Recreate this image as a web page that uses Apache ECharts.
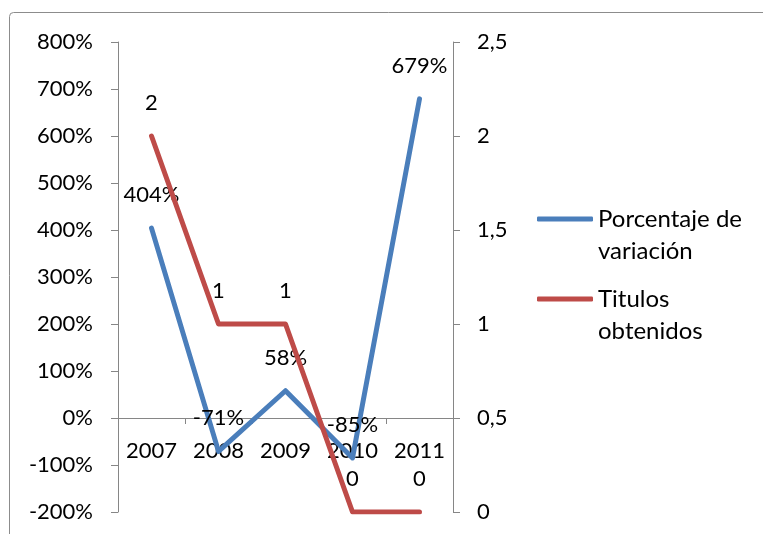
<!DOCTYPE html>
<html>
<head>
<meta charset="utf-8">
<script src="https://cdn.jsdelivr.net/npm/echarts@6/dist/echarts.min.js"></script>
<style>html,body{margin:0;padding:0;background:#fff}#c{width:763px;height:534px}</style>
</head>
<body>
<div id="c"></div>
<script>
var years = ['2007', '2008', '2009', '2010', '2011'];
var porcentaje = [404, -71, 58, -85, 679];
var titulos = [2, 1, 1, 0, 0];
var leftTicks = { min: -200, max: 800, interval: 100 };
var rightTicks = { min: 0, max: 2.5, interval: 0.5 };
var names = ['Porcentaje de variación', 'Titulos obtenidos'];

var FONT = 'Lato';
var chart = echarts.init(document.getElementById('c'));
var axisColor = '#868686';
var gridTop = 42, gridBottom = 22, H = 534;
var plotH = H - gridTop - gridBottom;
var zeroOffset = -plotH * (0 - leftTicks.min) / (leftTicks.max - leftTicks.min);
function comma(v) { return String(v).replace('.', ','); }
function legendFmt(n) { return n === names[0] ? '\nPorcentaje de\nvariación' : '\nTitulos\nobtenidos'; }
var legendText = { fontFamily: FONT, fontSize: 24, color: '#000', lineHeight: 32 };

chart.setOption({
  animation: false,
  textStyle: { fontFamily: FONT },
  graphic: [{
    type: 'rect', shape: { x: 9.5, y: 12.5, width: 800, height: 600, r: 4 },
    style: { fill: 'none', stroke: '#8c8c8c', lineWidth: 1 }
  }],
  grid: { left: 118, right: 310, top: gridTop, bottom: gridBottom, containLabel: false, outerBoundsMode: 'none' },
  legend: [
    { data: [names[0]], orient: 'vertical', left: 532, top: 166, itemWidth: 56, itemHeight: 5, icon: 'roundRect', itemGap: 5, textStyle: legendText, formatter: legendFmt },
    { data: [names[1]], orient: 'vertical', left: 532, top: 246, itemWidth: 56, itemHeight: 5, icon: 'roundRect', itemGap: 5, textStyle: legendText, formatter: legendFmt }
  ],
  xAxis: {
    type: 'category', data: years, boundaryGap: true, position: 'bottom', offset: zeroOffset,
    axisLine: { show: true, onZero: false, lineStyle: { color: axisColor, width: 1 } },
    axisTick: { show: true, length: 6, alignWithLabel: false, lineStyle: { color: axisColor } },
    axisLabel: { margin: 22, fontSize: 22, color: '#000', fontFamily: FONT },
    splitLine: { show: false }
  },
  yAxis: [{
    type: 'value', position: 'left', min: leftTicks.min, max: leftTicks.max, interval: leftTicks.interval,
    axisLine: { show: true, lineStyle: { color: axisColor } },
    axisTick: { show: true, length: 7, lineStyle: { color: axisColor } },
    axisLabel: { margin: 25, fontSize: 22, color: '#000', fontFamily: FONT, formatter: '{value}%' },
    splitLine: { show: false }
  }, {
    type: 'value', position: 'right', min: rightTicks.min, max: rightTicks.max, interval: rightTicks.interval,
    axisLine: { show: true, lineStyle: { color: axisColor } },
    axisTick: { show: true, length: 7, lineStyle: { color: axisColor } },
    axisLabel: { margin: 24, fontSize: 22, color: '#000', fontFamily: FONT, formatter: function (v) { return comma(v); } },
    splitLine: { show: false }
  }],
  series: [{
    name: names[0], type: 'line', yAxisIndex: 0, data: porcentaje,
    symbol: 'circle', symbolSize: 0.1, showSymbol: true,
    itemStyle: { color: '#4A7EBB' },
    lineStyle: { color: '#4A7EBB', width: 5, cap: 'round', join: 'round' },
    label: { show: true, position: 'top', distance: 22, fontSize: 22, color: '#000', fontFamily: FONT, formatter: function (p) { return p.value + '%'; } },
    z: 2
  }, {
    name: names[1], type: 'line', yAxisIndex: 1, data: titulos,
    symbol: 'circle', symbolSize: 0.1, showSymbol: true,
    itemStyle: { color: '#BE4B48' },
    lineStyle: { color: '#BE4B48', width: 5, cap: 'round', join: 'round' },
    label: { show: true, position: 'top', distance: 22, fontSize: 22, color: '#000', fontFamily: FONT, formatter: function (p) { return comma(p.value); } },
    z: 3
  }]
});
</script>
</body>
</html>
